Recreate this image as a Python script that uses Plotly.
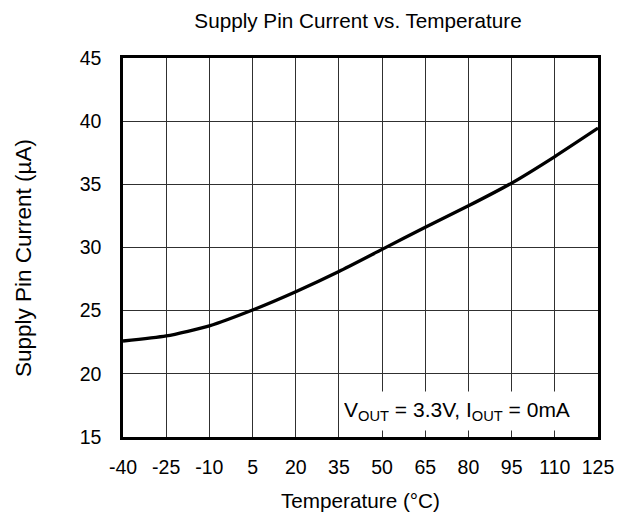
import plotly.graph_objects as go

temps = [-40, -25, -10, 5, 20, 35, 50, 65, 80, 95, 110, 125]
current = [22.6, 23.0, 23.8, 25.05, 26.5, 28.1, 29.85, 31.6, 33.3, 35.1, 37.2, 39.45]
x_ticks = [-40, -25, -10, 5, 20, 35, 50, 65, 80, 95, 110, 125]
y_ticks = [15, 20, 25, 30, 35, 40, 45]

FONT = "Liberation Sans, Arial, sans-serif"

# page body has an 8px margin -> figure drawn at (8, 8)
W, H = 617, 506
L, T, R, B = 115, 50, 27, 77
PW, PH = W - L - R, H - T - B

def px_x(ax):  # absolute screen x -> paper x
    return (ax - 8 - L) / PW

def px_y(ay):  # absolute screen y -> paper y
    return 1 - (ay - 8 - T) / PH

fig = go.Figure()
fig.add_trace(go.Scatter(
    x=temps, y=current, mode="lines",
    line=dict(color="black", width=3.3, shape="spline", smoothing=0.6),
    showlegend=False, hoverinfo="skip",
))

fig.update_layout(
    width=W, height=H,
    margin=dict(l=L, r=R, t=T, b=B),
    paper_bgcolor="white", plot_bgcolor="white",
    font=dict(family=FONT, color="black", size=19.5),
    title=dict(text="Supply Pin Current vs. Temperature", x=(358 - 8) / W,
               xref="container", xanchor="center",
               y=1 - (21 - 8) / H, yref="container", yanchor="middle",
               font=dict(size=20.7, family=FONT)),
    xaxis=dict(
        range=[-40, 125], tickmode="array", tickvals=x_ticks,
        ticktext=[str(v) for v in x_ticks],
        showgrid=True, gridcolor="#303030", gridwidth=1,
        showline=True, linecolor="black", linewidth=2.5, mirror=True,
        ticks="outside", ticklen=11, tickcolor="rgba(0,0,0,0)",
        zeroline=False, tickfont=dict(size=19.5),
    ),
    yaxis=dict(
        range=[15, 45], tickmode="array", tickvals=y_ticks,
        showgrid=True, gridcolor="#303030", gridwidth=1,
        showline=True, linecolor="black", linewidth=2.5, mirror=True,
        ticks="outside", ticklen=15, tickcolor="rgba(0,0,0,0)",
        zeroline=False, tickfont=dict(size=19.5),
    ),
)

# axis titles
fig.add_annotation(
    x=px_x(360), y=px_y(500), xref="paper", yref="paper",
    xanchor="center", yanchor="middle", showarrow=False,
    text="Temperature (°C)", font=dict(size=20.7, family=FONT),
)
fig.add_annotation(
    x=px_x(23), y=px_y(258), xref="paper", yref="paper",
    xanchor="center", yanchor="middle", showarrow=False, textangle=-90,
    text="Supply Pin Current (µA)", font=dict(size=22.5, family=FONT),
)

# condition box
fig.add_annotation(
    x=px_x(341), y=px_y(431), xref="paper", yref="paper",
    xanchor="left", yanchor="bottom", showarrow=False,
    text="V<sub>OUT</sub> = 3.3V, I<sub>OUT</sub> = 0mA",
    bgcolor="white", font=dict(size=21, family=FONT),
    width=245, height=34, align="left", valign="middle", borderpad=2,
)

fig.write_html("out.html")
